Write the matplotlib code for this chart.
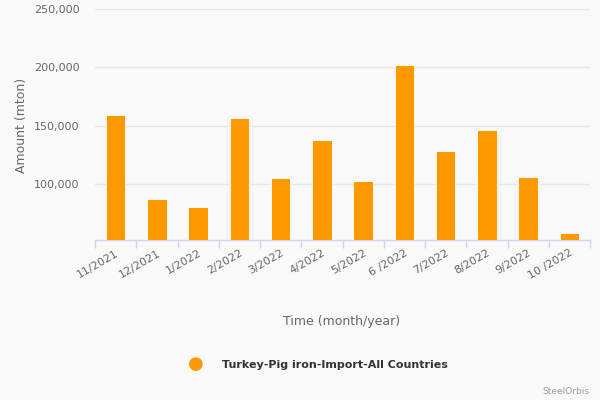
import numpy as np
import matplotlib.pyplot as plt
import matplotlib.transforms as mtransforms
from matplotlib.ticker import FuncFormatter

months = ['11/2021', '12/2021', '1/2022', '2/2022', '3/2022', '4/2022',
          '5/2022', '6 /2022', '7/2022', '8/2022', '9/2022', '10 /2022']
amounts = [159500, 87100, 80200, 156900, 105200, 137900,
           102600, 201700, 128400, 146500, 106000, 57800]
series_name = 'Turkey-Pig iron-Import-All Countries'
y_ticks = [100000, 150000, 200000, 250000]

bg = '#f9f9f9'
bar_color = '#ff9900'
axis_color = '#ccd6eb'

fig = plt.figure(figsize=(6, 4), dpi=100, facecolor=bg)
ax = fig.add_axes([95 / 600, 1 - 239.5 / 400, 495 / 600, 230.2 / 400])
ax.set_facecolor(bg)

x = np.arange(len(months))
ax.bar(x, amounts, width=0.47, color=bar_color, edgecolor='white', linewidth=0.6, zorder=3)

ax.set_xlim(-0.5, len(months) - 0.5)
ax.set_ylim(52155, 250000)

# y axis: gridlines only
ax.set_yticks(y_ticks)
ax.yaxis.set_major_formatter(FuncFormatter(lambda v, p: f'{int(v):,}'))
ax.grid(axis='y', color='#e6e6e6', linewidth=1, zorder=0)
ax.tick_params(axis='y', length=0, labelsize=8, labelcolor='#666666', pad=11)

# x axis: labels at centers, tick marks between categories
ax.set_xticks(x)
ax.set_xticklabels(months, rotation=30, ha='right', rotation_mode='anchor',
                   fontsize=8, color='#666666')
offset = mtransforms.ScaledTranslation(13 / 100, 0, fig.dpi_scale_trans)
for lbl in ax.get_xticklabels():
    lbl.set_transform(lbl.get_transform() + offset)
ax.tick_params(axis='x', which='major', length=0, pad=6)
ax.set_xticks(np.arange(len(months) + 1) - 0.5, minor=True)
ax.tick_params(axis='x', which='minor', length=6, color=axis_color, width=1)

for side in ['top', 'right', 'left']:
    ax.spines[side].set_visible(False)
ax.spines['bottom'].set_color(axis_color)
ax.spines['bottom'].set_linewidth(1)

fig.text(22 / 600, 1 - 125 / 400, 'Amount (mton)', rotation=90, ha='center', va='center',
         fontsize=9, color='#666666')
fig.text(342 / 600, 1 - 321 / 400, 'Time (month/year)', ha='center', va='center',
         fontsize=9, color='#666666')

# legend
fig.text(196 / 600, 1 - 364 / 400, '\u25cf', ha='center', va='center', fontsize=13,
         color=bar_color)
fig.text(222 / 600, 1 - 365 / 400, series_name, ha='left', va='center',
         fontsize=8, fontweight='bold', color='#333333')
fig.text(589 / 600, 1 - 391 / 400, 'SteelOrbis', ha='right', va='center',
         fontsize=6.5, color='#999999')

fig.savefig('out.png', dpi=100, facecolor=bg)
